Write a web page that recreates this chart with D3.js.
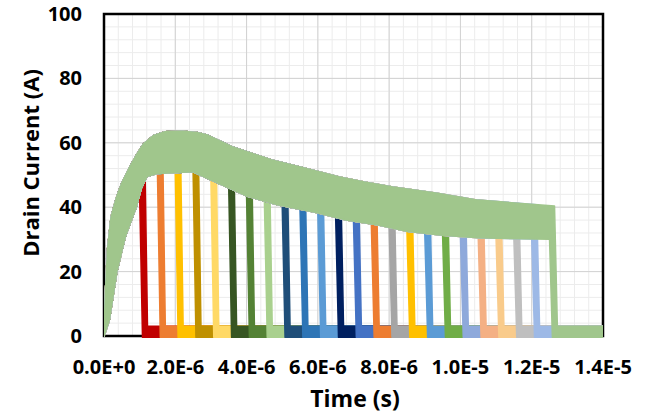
<!DOCTYPE html>
<html>
<head>
<meta charset="utf-8">
<script src="https://cdn.jsdelivr.net/npm/d3@7"></script>
<style>
body{margin:0;background:#fff;}
text{font-family:"Open Sans",sans-serif;font-weight:bold;fill:#000;}
</style>
</head>
<body>
<script>
// turn-off time of each pulse (us) and its colour
var turnOffUs = [1.0,1.5,2.0,2.5,3.0,3.5,4.0,4.5,5.0,5.5,6.0,6.5,7.0,7.5,8.0,8.5,9.0,9.5,10.0,10.5,11.0,11.5,12.0,12.5];
var seriesColors = ["#C00000","#ED7D31","#FFC000","#BF9000","#FFD966","#375623","#548235","#A9D08E",
	"#1F4E79","#2E75B6","#5B9BD5","#002060","#4472C4","#ED7D31","#A5A5A5","#FFC000",
	"#5B9BD5","#70AD47","#8EA9DB","#F4B084","#F9CB8B","#BFBFBF","#9DB9E6","#A0C68C"];

// upper / lower edge of the noisy on-state current (us, A)
var upperT = [0,0.04,0.1,0.2,0.35,0.5,0.7,0.9,1.1,1.4,1.7,2.2,2.6,2.9,3.2,3.6,4.7,5.5,6.6,7.3,8.1,9.3,10.5,11.9,12.7];
var upperA = [0,14,27,37,43,47.5,52,56,59.5,62.3,63.4,63.6,63.2,62.4,60.8,58.7,54.7,52.5,49.4,47.8,46.3,44.4,42.2,41,40.3];
var lowerT = [0,0.15,0.36,0.6,0.9,1.05,1.2,1.5,2.5,3.0,4.0,4.9,5.9,6.8,7.7,8.5,9.5,10.5,12.7];
var lowerA = [0,5,20,31,40,46,49.5,50.5,51,48.5,43.5,40.7,38.5,36,34.5,32.5,31.3,30.5,30];

// off-state band (A), fall time and edge width (us), end of record
var offBand = [-0.4,3];
var fallUs = 0.08, edgeUs = 0.14, endUs = 14;

var xTicks = [0,2e-6,4e-6,6e-6,8e-6,1e-5,1.2e-5,1.4e-5];
var xTickLabels = ["0.0E+0","2.0E-6","4.0E-6","6.0E-6","8.0E-6","1.0E-5","1.2E-5","1.4E-5"];
var yTicks = [0,20,40,60,80,100];

var svgwidth = 645, svgheight = 417;
var plot = {left:104, top:14, right:603, bottom:336};

var x = d3.scaleLinear().domain([0,1.4e-5]).range([plot.left,plot.right]);
var y = d3.scaleLinear().domain([0,100]).range([plot.bottom,plot.top]);
var up = d3.scaleLinear().domain(upperT).range(upperA).clamp(true);
var lo = d3.scaleLinear().domain(lowerT).range(lowerA).clamp(true);

var svg = d3.select("body").append("svg")
	.attr("width",svgwidth)
	.attr("height",svgheight);

svg.append("defs").append("clipPath").attr("id","clip")
	.append("rect")
	.attr("x",plot.left).attr("y",plot.top)
	.attr("width",plot.right-plot.left)
	.attr("height",plot.bottom-plot.top+2);

// grid
var minorX = d3.range(0,14.01,0.4).map(function(d){return d*1e-6;});
var minorY = d3.range(0,100.1,4);
var grid = svg.append("g");
grid.selectAll(".mx").data(minorX).enter().append("line")
	.attr("x1",x).attr("x2",x).attr("y1",plot.top).attr("y2",plot.bottom)
	.attr("stroke","#ececec").attr("stroke-width",1);
grid.selectAll(".my").data(minorY).enter().append("line")
	.attr("y1",y).attr("y2",y).attr("x1",plot.left).attr("x2",plot.right)
	.attr("stroke","#ececec").attr("stroke-width",1);
grid.selectAll(".gx").data(xTicks).enter().append("line")
	.attr("x1",x).attr("x2",x).attr("y1",plot.top).attr("y2",plot.bottom)
	.attr("stroke","#d2d2d2").attr("stroke-width",1);
grid.selectAll(".gy").data(yTicks).enter().append("line")
	.attr("y1",y).attr("y2",y).attr("x1",plot.left).attr("x2",plot.right)
	.attr("stroke","#d2d2d2").attr("stroke-width",1);

svg.append("rect")
	.attr("x",plot.left).attr("y",plot.top)
	.attr("width",plot.right-plot.left)
	.attr("height",plot.bottom-plot.top)
	.attr("fill","none").attr("stroke","#000").attr("stroke-width",2.5);

// one closed outline per pulse: on-state band, falling edge, off-state band
function pulsePoints(toff){
	var pts = [];
	var tEdge = toff+edgeUs;
	upperT.forEach(function(t,i){ if(t<tEdge) pts.push([t,upperA[i]]); });
	pts.push([tEdge,up(tEdge)]);
	pts.push([tEdge+fallUs,offBand[1]]);
	pts.push([endUs,offBand[1]]);
	pts.push([endUs,offBand[0]]);
	pts.push([toff+fallUs,offBand[0]]);
	pts.push([toff,lo(toff)]);
	var back = [];
	lowerT.forEach(function(t,i){ if(t<toff) back.push([t,lowerA[i]]); });
	return pts.concat(back.reverse());
}

var line = d3.line()
	.x(function(d){return x(d[0]*1e-6);})
	.y(function(d){return y(d[1]);});

svg.append("g").attr("clip-path","url(#clip)")
	.selectAll("path").data(turnOffUs).enter().append("path")
	.attr("d",function(d){return line(pulsePoints(d))+"Z";})
	.attr("fill",function(d,i){return seriesColors[i];})
	.attr("stroke",function(d,i){return seriesColors[i];})
	.attr("stroke-width",1.5)
	.attr("stroke-linejoin","round");

// tick labels
svg.append("g").selectAll("text").data(yTicks).enter().append("text")
	.attr("x",82).attr("y",function(d){return y(d)+7;})
	.attr("text-anchor","end")
	.style("font-size","20px")
	.text(function(d){return d;});

svg.append("g").selectAll("text").data(xTicks).enter().append("text")
	.attr("x",x).attr("y",374)
	.attr("text-anchor","middle")
	.style("font-size","20px")
	.text(function(d,i){return xTickLabels[i];});

svg.append("text")
	.attr("x",355).attr("y",407)
	.attr("text-anchor","middle")
	.style("font-size","23px")
	.text("Time (s)");

svg.append("text")
	.attr("transform","translate(39,163) rotate(-90)")
	.attr("text-anchor","middle")
	.style("font-size","22px")
	.text("Drain Current (A)");
</script>
</body>
</html>
